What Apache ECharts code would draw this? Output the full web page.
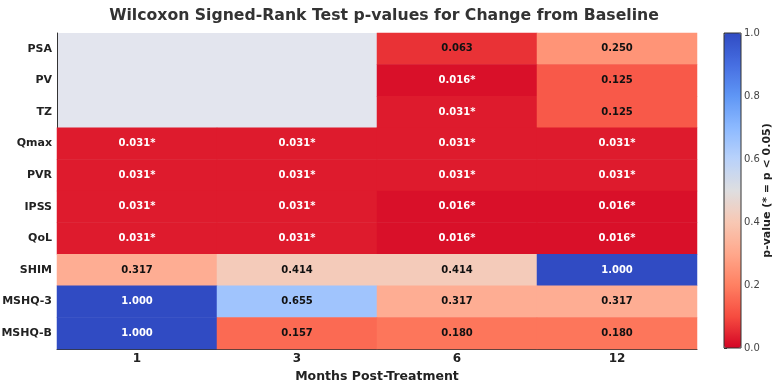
<!DOCTYPE html>
<html>
<head>
<meta charset="utf-8">
<script src="https://cdn.jsdelivr.net/npm/echarts@6/dist/echarts.min.js"></script>
<style>
  html, body { margin: 0; padding: 0; background: #fff; }
  #chart { width: 777px; height: 386px; }
</style>
</head>
<body>
<div id="chart"></div>
<script>
// 行：指标，列：治疗后月份
const measures = ["PSA", "PV", "TZ", "Qmax", "PVR", "IPSS", "QoL", "SHIM", "MSHQ-3", "MSHQ-B"];
const months = ["1", "3", "6", "12"];
// p 值，null = 无数据
const pPSA = [null, null, 0.063, 0.250];
const pPV = [null, null, 0.016, 0.125];
const pTZ = [null, null, 0.031, 0.125];
const pQmax = [0.031, 0.031, 0.031, 0.031];
const pPVR = [0.031, 0.031, 0.031, 0.031];
const pIPSS = [0.031, 0.031, 0.016, 0.016];
const pQoL = [0.031, 0.031, 0.016, 0.016];
const pSHIM = [0.317, 0.414, 0.414, 1.000];
const pMSHQ3 = [1.000, 0.655, 0.317, 0.317];
const pMSHQB = [1.000, 0.157, 0.180, 0.180];
const colorbarTicks = [0, 0.2, 0.4, 0.6, 0.8, 1.0];

const rows = [pPSA, pPV, pTZ, pQmax, pPVR, pIPSS, pQoL, pSHIM, pMSHQ3, pMSHQB];
const cells = [];
rows.forEach((row, r) => {
  row.forEach((p, c) => {
    if (p === null) return;
    cells.push({
      value: [c, r, p],
      label: { color: (p < 0.05 || p > 0.8) ? "#ffffff" : "#111111" }
    });
  });
});

const font = "DejaVu Sans";
const chart = echarts.init(document.getElementById("chart"));
const option = {
  animation: false,
  title: {
    text: "Wilcoxon Signed-Rank Test p-values for Change from Baseline",
    left: 379, top: 3, textAlign: "center",
    textStyle: { fontFamily: font, fontWeight: "bold", fontSize: 15.7, color: "#333" }
  },
  grid: [
    { left: 57, right: 80, top: 33, bottom: 37, outerBoundsMode: "none", containLabel: false,
      show: true, backgroundColor: "#e3e5ee", borderWidth: 0 },
    { left: 724, width: 17, top: 33, bottom: 38, outerBoundsMode: "none", containLabel: false,
      show: true, backgroundColor: "transparent", borderColor: "#333", borderWidth: 1, z: 10 }
  ],
  xAxis: [
    {
      type: "category", data: months, gridIndex: 0,
      axisLine: { lineStyle: { color: "#333", width: 1 } },
      axisTick: { show: false },
      axisLabel: { fontFamily: font, fontWeight: "bold", fontSize: 12, color: "#222", margin: 4 },
      name: "Months Post-Treatment", nameLocation: "middle", nameGap: 21,
      nameTextStyle: { fontFamily: font, fontWeight: "bold", fontSize: 12.5, color: "#222" }
    },
    { type: "value", gridIndex: 1, show: false, min: 0, max: 1 }
  ],
  yAxis: [
    {
      type: "category", data: measures, inverse: true, gridIndex: 0,
      axisLine: { lineStyle: { color: "#333", width: 1 } },
      axisTick: { show: false },
      axisLabel: { fontFamily: font, fontWeight: "bold", fontSize: 11, color: "#222", margin: 5 }
    },
    {
      type: "value", gridIndex: 1, position: "right", min: 0, max: 1, interval: 0.2,
      axisLine: { show: false },
      axisTick: { show: true, length: 3, lineStyle: { color: "#333" } },
      splitLine: { show: false },
      axisLabel: { fontFamily: font, fontSize: 10, color: "#444", margin: 3,
        formatter: v => colorbarTicks.some(t => Math.abs(t - v) < 1e-9) ? v.toFixed(1) : "" },
      name: "p-value (* = p < 0.05)", nameLocation: "middle", nameRotate: 90, nameGap: 21,
      nameMoveOverlap: false,
      nameTextStyle: { fontFamily: font, fontWeight: "bold", fontSize: 11, color: "#222" }
    }
  ],
  visualMap: {
    type: "continuous", min: 0, max: 1, seriesIndex: 0,
    calculable: false, orient: "vertical", left: 724, top: 33,
    itemWidth: 17, itemHeight: 315, padding: 0, text: null, showLabel: false,
    inRange: {
      color: ["#d30525", "#f64c40", "#ff8062", "#ffa88c", "#f8c8b4", "#dedee0",
              "#b9d2fa", "#8cb9ff", "#5f96f5", "#466ee1", "#304bc3"]
    }
  },
  series: [
    {
      type: "heatmap", xAxisIndex: 0, yAxisIndex: 0, data: cells,
      label: {
        show: true, fontFamily: font, fontWeight: "bold", fontSize: 10,
        formatter: p => p.value[2].toFixed(3) + (p.value[2] < 0.05 ? "*" : "")
      },
      emphasis: { disabled: true }
    }
  ]
};
chart.setOption(option);
</script>
</body>
</html>
